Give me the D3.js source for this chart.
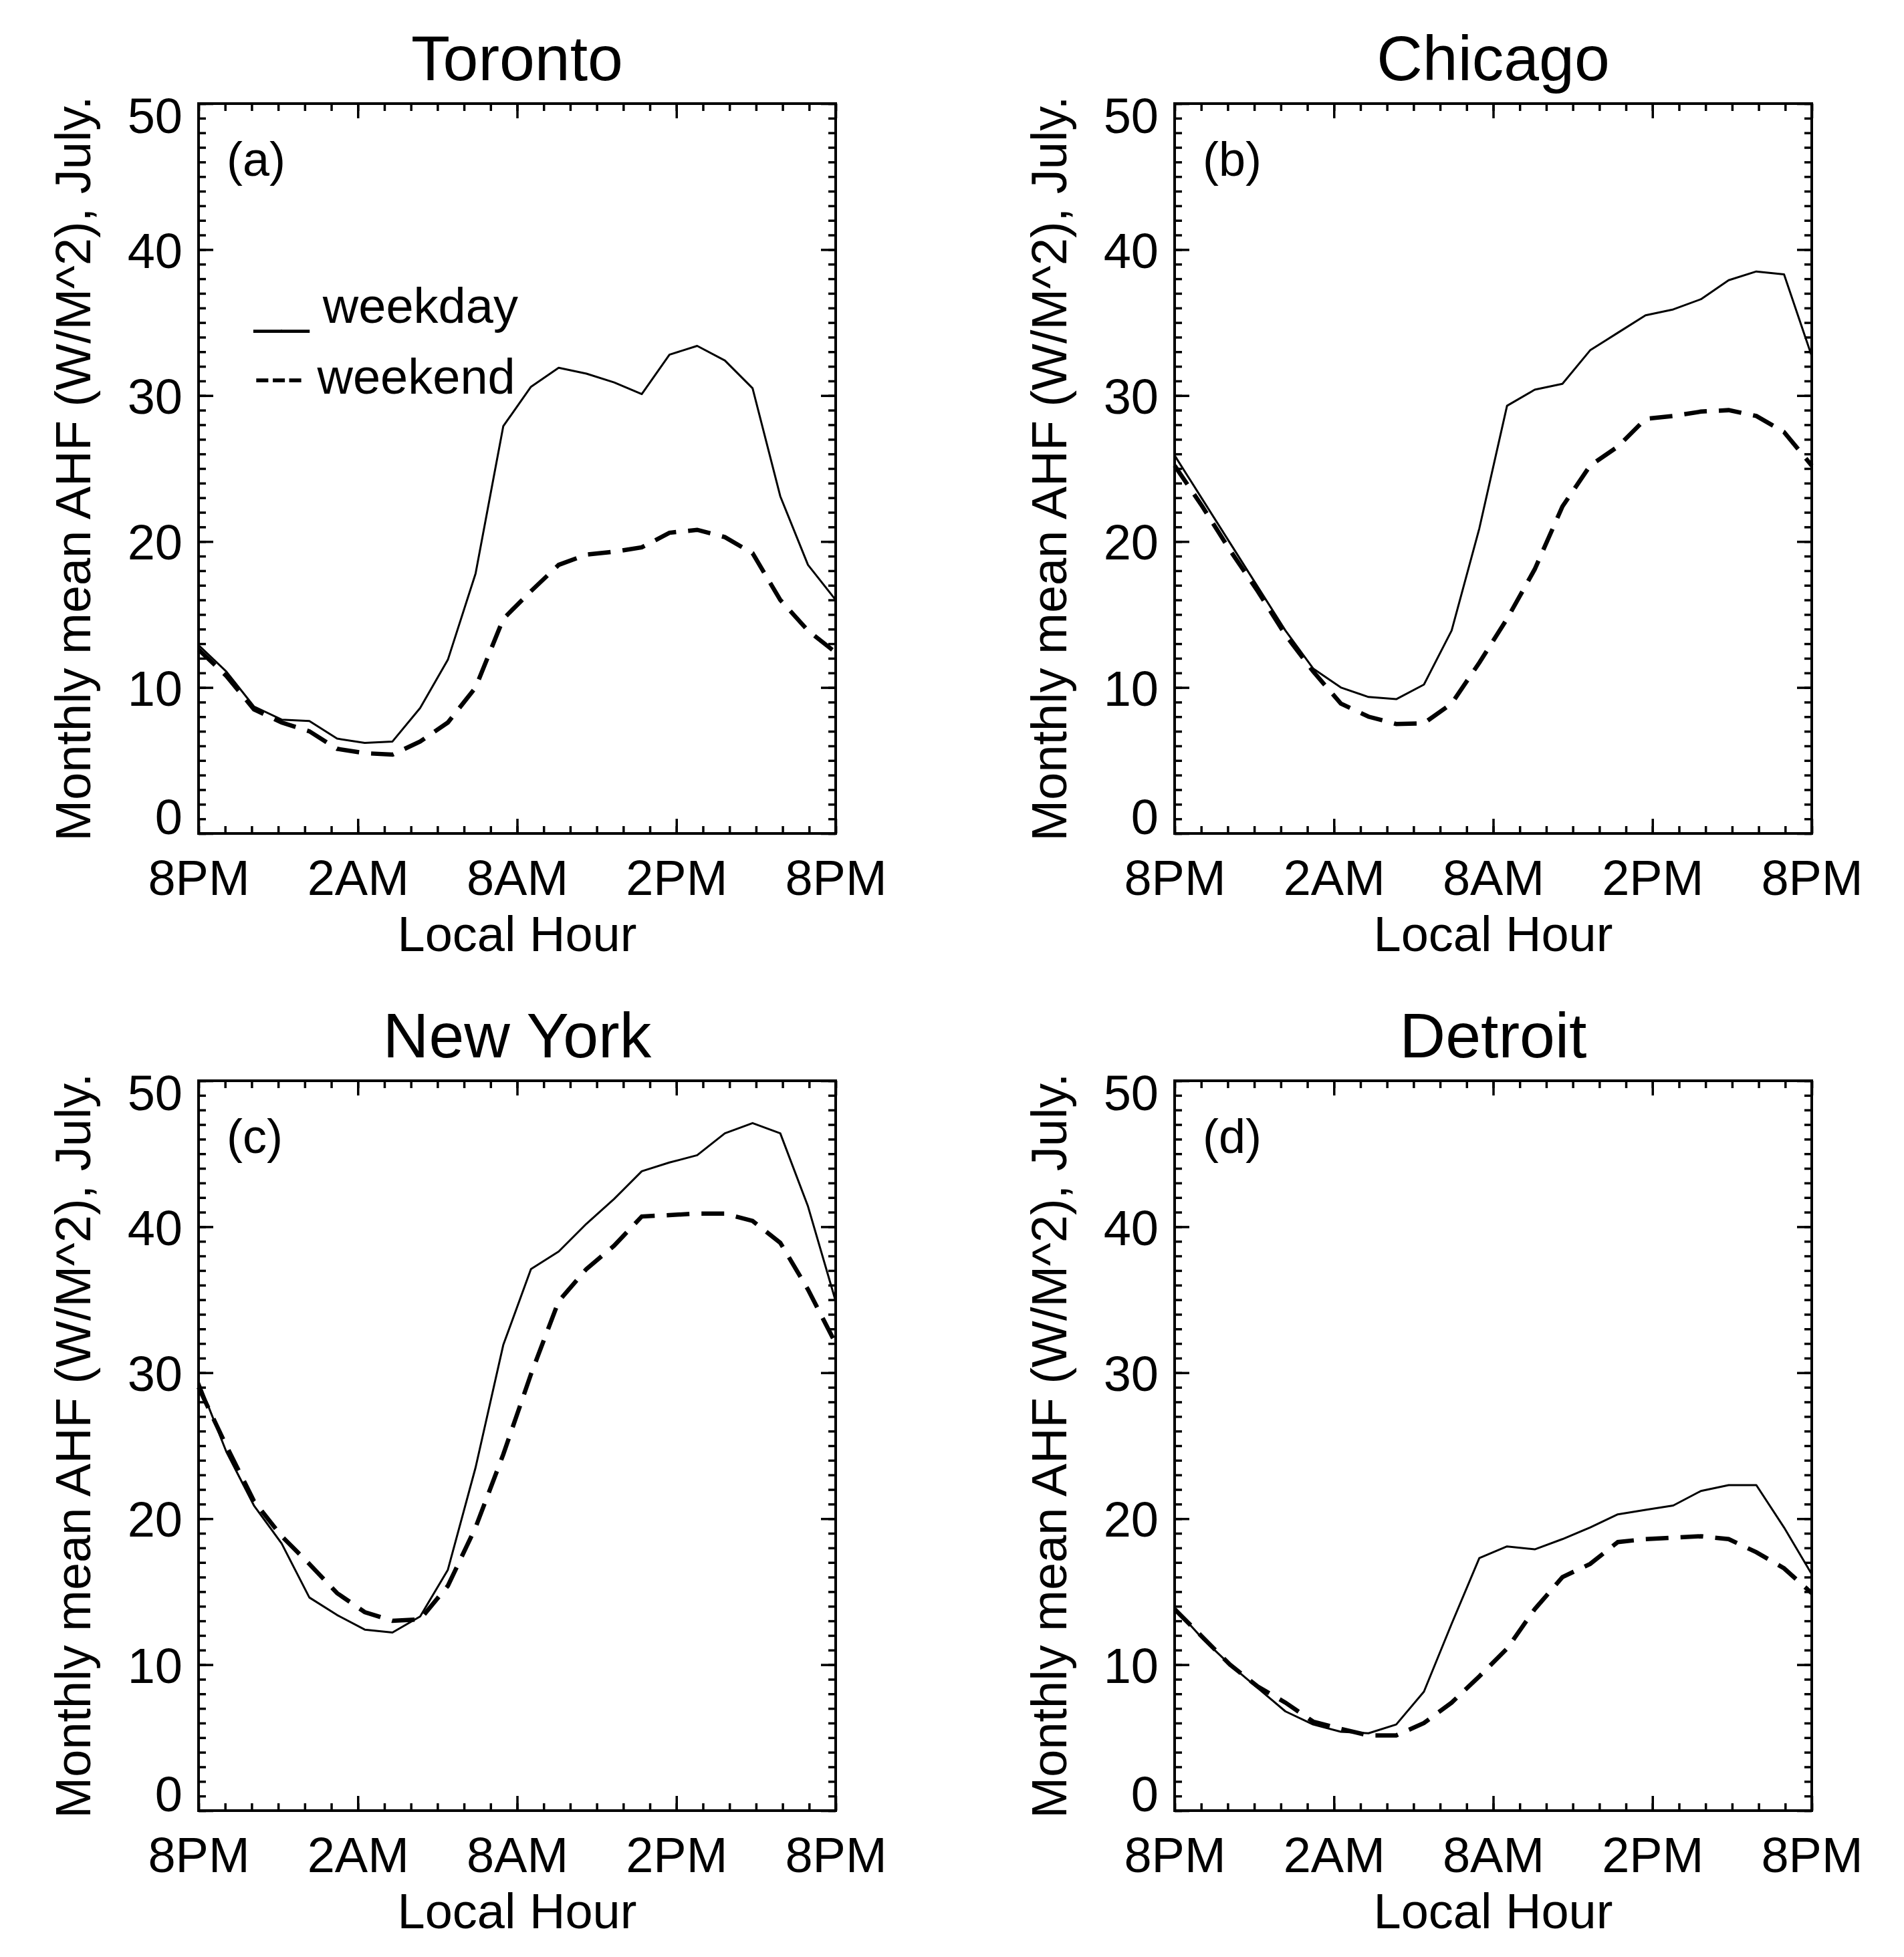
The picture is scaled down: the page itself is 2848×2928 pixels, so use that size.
<!DOCTYPE html>
<html>
<head>
<meta charset="utf-8">
<script src="https://cdn.jsdelivr.net/npm/d3@7"></script>
<style>
  html, body { margin: 0; padding: 0; background: #fff; }
  svg text { font-family: "Liberation Sans", Arial, Helvetica, sans-serif; fill: #000; }
</style>
</head>
<body>
<svg id="chart" width="2848" height="2928"></svg>
<script>
'use strict';

// values, one point per hour starting at 8PM
const hourLabels = ['8PM', '2AM', '8AM', '2PM', '8PM'];
const cities = ['Toronto', 'Chicago', 'New York', 'Detroit'];
const panelLetters = ['(a)', '(b)', '(c)', '(d)'];
const yTickLabels = [0, 10, 20, 30, 40, 50];
const legendLabels = ['__ weekday', '--- weekend'];

const torontoWeekday = [12.9, 11.1, 8.7, 7.8, 7.7, 6.5, 6.2, 6.3, 8.6, 11.9, 17.8, 27.9,
                        30.6, 31.9, 31.5, 30.9, 30.1, 32.8, 33.4, 32.4, 30.5, 23.1, 18.4, 16.0];
const torontoWeekend = [12.6, 10.8, 8.5, 7.6, 7.0, 5.8, 5.5, 5.4, 6.3, 7.6, 10.0, 14.7,
                        16.6, 18.4, 19.1, 19.3, 19.6, 20.6, 20.8, 20.3, 19.2, 16.0, 13.9, 12.4];
const chicagoWeekday = [25.9, 22.9, 19.9, 16.9, 13.9, 11.3, 10.0, 9.35, 9.2, 10.2, 13.9, 20.9,
                        29.3, 30.4, 30.8, 33.1, 34.3, 35.5, 35.9, 36.6, 37.9, 38.5, 38.3, 32.7];
const chicagoWeekend = [25.2, 22.4, 19.4, 16.6, 13.6, 11.1, 8.9, 8.0, 7.5, 7.55, 8.9, 11.7,
                        14.7, 18.1, 22.4, 25.2, 26.5, 28.4, 28.6, 28.9, 29.0, 28.6, 27.5, 25.2];
const newYorkWeekday = [29.4, 24.6, 20.9, 18.3, 14.6, 13.4, 12.4, 12.2, 13.3, 16.5, 23.5, 31.9,
                        37.1, 38.3, 40.2, 41.9, 43.8, 44.4, 44.9, 46.4, 47.1, 46.4, 41.4, 34.9];
const newYorkWeekend = [29.0, 25.0, 21.2, 18.8, 16.9, 14.9, 13.6, 13.0, 13.1, 15.4, 19.4, 24.4,
                        29.9, 34.9, 37.1, 38.7, 40.7, 40.8, 40.9, 40.9, 40.4, 38.9, 35.7, 32.0];
const detroitWeekday = [13.9, 11.8, 10.0, 8.4, 6.8, 5.9, 5.4, 5.3, 5.9, 8.15, 12.8, 17.3,
                        18.1, 17.9, 18.6, 19.4, 20.3, 20.6, 20.9, 21.9, 22.3, 22.3, 19.4, 16.2];
const detroitWeekend = [13.8, 11.9, 10.0, 8.5, 7.4, 6.1, 5.6, 5.15, 5.15, 6.0, 7.4, 9.2,
                        11.1, 13.8, 16.0, 16.9, 18.4, 18.6, 18.7, 18.8, 18.6, 17.7, 16.6, 14.9];

const weekdaySeries = [torontoWeekday, chicagoWeekday, newYorkWeekday, detroitWeekday];
const weekendSeries = [torontoWeekend, chicagoWeekend, newYorkWeekend, detroitWeekend];

// layout
const colLeft = [297, 1757];
const rowTop = [155, 1617];
const plotW = 953;
const plotH = 1092;
const fontLabel = 74;

const svg = d3.select('#chart');
svg.append('rect').attr('width', 2848).attr('height', 2928).attr('fill', '#fff');

const x = d3.scaleLinear().domain([0, 23]).range([0, plotW]);
const y = d3.scaleLinear().domain([0, 50]).range([plotH, 0]);

const xTicks = d3.range(25).map(i => i * 23 / 24);
const xMajor = xTicks.filter((d, i) => i % 6 === 0);
const yTicks = d3.range(0, 51);

const line = d3.line()
    .x((d, i) => x(i))
    .y(d => y(d));

function styleAxis(g) {
    g.select('.domain').remove();
    g.selectAll('.tick line').attr('stroke', '#000').attr('stroke-width', 3.5);
    g.selectAll('text')
        .style('font-family', '"Liberation Sans", Arial, sans-serif')
        .style('font-size', fontLabel + 'px')
        .attr('fill', '#000');
}

function drawPanel(p) {
    const left = colLeft[p % 2];
    const top = rowTop[Math.floor(p / 2)];
    const g = svg.append('g').attr('transform', `translate(${left},${top})`);

    // minor + major ticks on all four sides, all pointing inwards
    g.append('g').attr('transform', `translate(0,${plotH})`)
        .call(d3.axisBottom(x).tickValues(xTicks).tickSize(-11).tickSizeOuter(0).tickFormat(''))
        .call(styleAxis);
    const xLab = g.append('g').attr('transform', `translate(0,${plotH})`)
        .call(d3.axisBottom(x).tickValues(xMajor).tickSize(-22).tickSizeOuter(0)
            .tickFormat((d, i) => hourLabels[i]))
        .call(styleAxis);
    xLab.selectAll('text').attr('y', 92).attr('dy', 0);

    g.append('g')
        .call(d3.axisTop(x).tickValues(xTicks).tickSize(-11).tickSizeOuter(0).tickFormat(''))
        .call(styleAxis);
    g.append('g')
        .call(d3.axisTop(x).tickValues(xMajor).tickSize(-22).tickSizeOuter(0).tickFormat(''))
        .call(styleAxis);

    g.append('g')
        .call(d3.axisLeft(y).tickValues(yTicks).tickSize(-11).tickSizeOuter(0).tickFormat(''))
        .call(styleAxis);
    const yLab = g.append('g')
        .call(d3.axisLeft(y).tickValues(yTickLabels).tickSize(-22).tickSizeOuter(0))
        .call(styleAxis);
    yLab.selectAll('text')
        .attr('x', -24)
        .attr('dy', d => d === 0 ? '0' : (d === 50 ? '43px' : '0.36em'));

    g.append('g').attr('transform', `translate(${plotW},0)`)
        .call(d3.axisRight(y).tickValues(yTicks).tickSize(-11).tickSizeOuter(0).tickFormat(''))
        .call(styleAxis);
    g.append('g').attr('transform', `translate(${plotW},0)`)
        .call(d3.axisRight(y).tickValues(yTickLabels).tickSize(-22).tickSizeOuter(0).tickFormat(''))
        .call(styleAxis);

    // frame
    g.append('rect')
        .attr('width', plotW).attr('height', plotH)
        .attr('fill', 'none').attr('stroke', '#000').attr('stroke-width', 4);

    // data
    g.append('path')
        .datum(weekdaySeries[p])
        .attr('d', line)
        .attr('fill', 'none').attr('stroke', '#000')
        .attr('stroke-width', 3).attr('stroke-linejoin', 'round');
    g.append('path')
        .datum(weekendSeries[p])
        .attr('d', line)
        .attr('fill', 'none').attr('stroke', '#000')
        .attr('stroke-width', 6.5).attr('stroke-dasharray', '34,18');

    // texts
    g.append('text')
        .attr('x', plotW / 2).attr('y', -35)
        .attr('text-anchor', 'middle')
        .style('font-size', '95px')
        .text(cities[p]);
    g.append('text')
        .attr('x', plotW / 2).attr('y', plotH + 176)
        .attr('text-anchor', 'middle')
        .style('font-size', fontLabel + 'px')
        .text('Local Hour');
    g.append('text')
        .attr('transform', `translate(-162,${plotH / 2}) rotate(-90)`)
        .attr('text-anchor', 'middle')
        .style('font-size', fontLabel + 'px')
        .text('Monthly mean AHF (W/M^2), July.');
    g.append('text')
        .attr('x', 42).attr('y', 108)
        .style('font-size', '72px')
        .text(panelLetters[p]);

    if (p === 0) {
        g.selectAll('.legend')
            .data(legendLabels)
            .enter()
            .append('text')
            .attr('class', 'legend')
            .attr('x', 83)
            .attr('y', (d, i) => 328 + i * 106)
            .style('font-size', '74px')
            .style('white-space', 'pre')
            .text(d => d);
    }
}

cities.forEach((c, p) => drawPanel(p));
</script>
</body>
</html>
